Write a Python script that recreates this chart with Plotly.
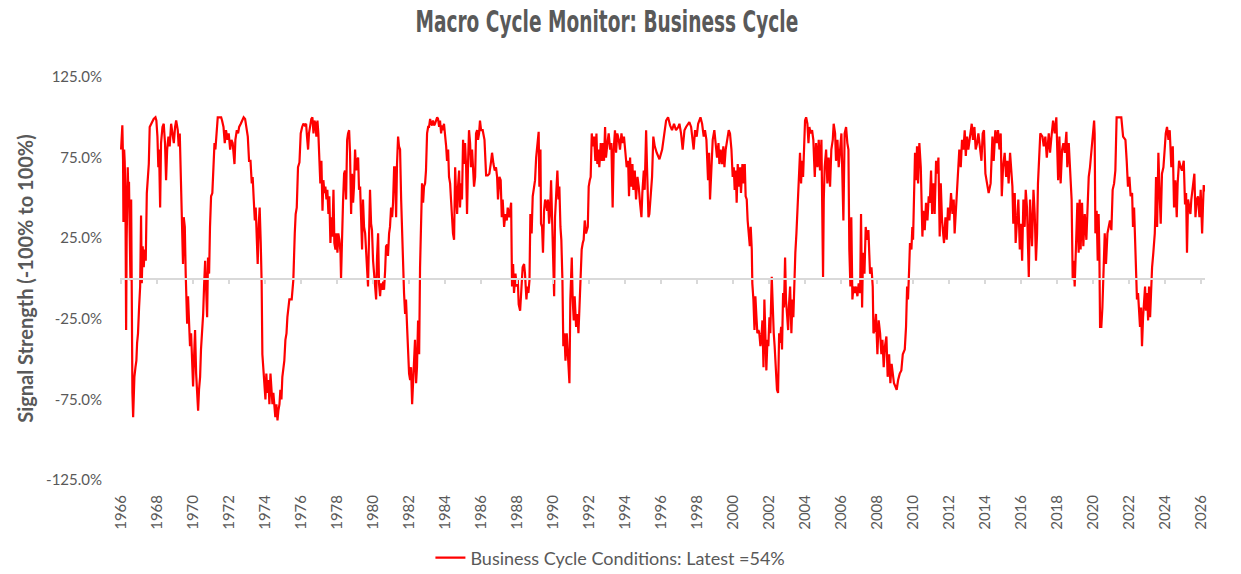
import plotly.graph_objects as go

# Business cycle signal (fractional years, % values)
years_66_75 = [1966.00, 1966.04, 1966.07, 1966.11, 1966.13, 1966.17, 1966.20, 1966.24, 1966.28, 1966.31,
               1966.37, 1966.41, 1966.44, 1966.48, 1966.52, 1966.56, 1966.59, 1966.63, 1966.67, 1966.70,
               1966.74, 1966.80, 1966.85, 1966.89, 1966.94, 1967.00, 1967.06, 1967.11, 1967.15, 1967.20,
               1967.26, 1967.31, 1967.37, 1967.43, 1967.48, 1967.54, 1967.59, 1967.67, 1967.74, 1967.81,
               1967.91, 1967.96, 1968.02, 1968.07, 1968.11, 1968.17, 1968.22, 1968.30, 1968.37, 1968.44,
               1968.50, 1968.56, 1968.63, 1968.70, 1968.78, 1968.85, 1968.93, 1969.00, 1969.06, 1969.15,
               1969.20, 1969.26, 1969.31, 1969.37, 1969.41, 1969.44, 1969.48, 1969.54, 1969.59, 1969.63,
               1969.67, 1969.72, 1969.78, 1969.83, 1969.89, 1969.94, 1970.00, 1970.06, 1970.11, 1970.17,
               1970.22, 1970.28, 1970.33, 1970.39, 1970.44, 1970.50, 1970.56, 1970.61, 1970.67, 1970.72,
               1970.78, 1970.83, 1970.89, 1970.94, 1971.00, 1971.07, 1971.13, 1971.19, 1971.24, 1971.30,
               1971.37, 1971.46, 1971.56, 1971.61, 1971.69, 1971.76, 1971.83, 1971.91, 1971.98, 1972.06,
               1972.13, 1972.20, 1972.30, 1972.35, 1972.43, 1972.50, 1972.56, 1972.65, 1972.72, 1972.81,
               1972.89, 1972.96, 1973.04, 1973.11, 1973.19, 1973.26, 1973.31, 1973.37, 1973.43, 1973.48,
               1973.54, 1973.59, 1973.65, 1973.70, 1973.76, 1973.81, 1973.85, 1973.91, 1973.96, 1974.02,
               1974.07, 1974.13, 1974.19, 1974.24, 1974.30, 1974.35, 1974.41, 1974.46, 1974.52, 1974.57,
               1974.63, 1974.69, 1974.74, 1974.80, 1974.85, 1974.91, 1974.96, 1975.02, 1975.07, 1975.13,
               1975.19, 1975.24, 1975.30, 1975.35]
signal_66_75 = [80, 90, 95, 73, 35, 80, 73, 53, -32, 24,
                69, 49, 60, 28, -1, 49, -34, -71, -86, -75,
                -61, -55, -51, -40, -34, -18, -5, 39, -3, 20,
                7, 18, 11, 53, 65, 71, 94, 96, 98, 99,
                100, 98, 88, 69, 80, 44, 84, 94, 96, 84,
                61, 80, 88, 82, 96, 90, 84, 94, 98, 92,
                82, 90, 69, 42, 24, 9, 38, 32, 3, -13,
                -28, -11, -24, -42, -34, -51, -67, -47, -32, -59,
                -75, -82, -69, -61, -44, -34, -22, -5, 11, -5,
                -24, 13, 3, 32, 51, 53, 69, 84, 80, 92,
                100, 100, 100, 98, 94, 84, 92, 86, 90, 80,
                86, 84, 71, 86, 92, 90, 94, 96, 98, 100,
                99, 94, 88, 73, 73, 59, 63, 49, 36, 44,
                26, 9, 34, 44, 22, -3, -47, -55, -67, -75,
                -59, -71, -63, -78, -59, -71, -78, -71, -82, -86,
                -78, -88, -82, -78, -69, -75, -61, -55, -51, -38,
                -34, -24, -18, -13]

years_75_86 = [1975.48, 1975.57, 1975.65, 1975.70, 1975.76, 1975.83, 1975.91, 1975.98, 1976.06, 1976.13,
               1976.20, 1976.28, 1976.33, 1976.39, 1976.44, 1976.52, 1976.57, 1976.63, 1976.69, 1976.74,
               1976.80, 1976.85, 1976.91, 1976.96, 1977.02, 1977.07, 1977.13, 1977.19, 1977.24, 1977.30,
               1977.35, 1977.41, 1977.46, 1977.52, 1977.57, 1977.63, 1977.69, 1977.74, 1977.80, 1977.85,
               1977.91, 1977.96, 1978.02, 1978.07, 1978.13, 1978.19, 1978.22, 1978.28, 1978.33, 1978.39,
               1978.44, 1978.50, 1978.56, 1978.61, 1978.67, 1978.72, 1978.78, 1978.83, 1978.89, 1978.94,
               1979.00, 1979.06, 1979.11, 1979.17, 1979.22, 1979.28, 1979.33, 1979.39, 1979.44, 1979.50,
               1979.56, 1979.61, 1979.67, 1979.72, 1979.78, 1979.83, 1979.89, 1979.94, 1980.00, 1980.06,
               1980.11, 1980.17, 1980.22, 1980.28, 1980.33, 1980.39, 1980.44, 1980.50, 1980.56, 1980.61,
               1980.67, 1980.72, 1980.78, 1980.83, 1980.89, 1980.94, 1981.00, 1981.06, 1981.11, 1981.17,
               1981.22, 1981.28, 1981.33, 1981.39, 1981.44, 1981.50, 1981.56, 1981.61, 1981.67, 1981.72,
               1981.78, 1981.83, 1981.89, 1981.94, 1982.00, 1982.06, 1982.11, 1982.17, 1982.22, 1982.28,
               1982.33, 1982.39, 1982.44, 1982.50, 1982.56, 1982.61, 1982.67, 1982.72, 1982.78, 1982.83,
               1982.89, 1982.94, 1983.00, 1983.06, 1983.11, 1983.17, 1983.22, 1983.28, 1983.33, 1983.39,
               1983.44, 1983.50, 1983.56, 1983.61, 1983.67, 1983.72, 1983.78, 1983.83, 1983.89, 1983.94,
               1984.00, 1984.06, 1984.11, 1984.17, 1984.22, 1984.28, 1984.33, 1984.39, 1984.44, 1984.50,
               1984.56, 1984.61, 1984.67, 1984.72, 1984.78, 1984.83, 1984.89, 1984.94, 1985.00, 1985.06,
               1985.11, 1985.17, 1985.22, 1985.28, 1985.33, 1985.39, 1985.44, 1985.50, 1985.56, 1985.61,
               1985.67, 1985.72, 1985.78, 1985.83, 1985.89, 1985.94, 1986.00]
signal_75_86 = [-13, -1, 28, 40, 44, 69, 72, 90, 94, 96,
                95, 96, 88, 80, 90, 96, 99, 100, 90, 98,
                96, 88, 98, 90, 73, 59, 73, 42, 61, 53,
                57, 49, 55, 40, 51, 22, 38, 26, 55, 22,
                18, 28, 16, 28, 24, 16, 0, 32, 47, 65,
                67, 49, 86, 90, 92, 78, 40, 65, 47, 57,
                80, 67, 73, 75, 55, 57, 38, 18, 49, 32,
                28, 18, 7, -5, 28, 55, 34, 30, 11, 3,
                -9, -13, 13, 28, -3, -11, -3, -7, -2, -7,
                5, 20, 21, 14, 28, 32, 44, 38, 47, 69,
                69, 38, 71, 88, 82, 80, 49, 26, 7, -9,
                -22, -13, -30, -42, -59, -63, -55, -78, -67, -55,
                -38, -65, -55, -26, -47, 7, 44, 59, 47, 57,
                59, 67, 90, 94, 94, 99, 96, 95, 98, 95,
                96, 98, 100, 99, 94, 98, 90, 95, 92, 96,
                90, 82, 73, 80, 63, 59, 49, 36, 28, 24,
                69, 53, 40, 57, 67, 44, 59, 49, 86, 71,
                84, 69, 40, 73, 92, 84, 69, 80, 65, 57,
                63, 90, 92, 86, 90, 98, 92]

years_86_96 = [1986.09, 1986.19, 1986.28, 1986.37, 1986.46, 1986.56, 1986.61, 1986.69, 1986.76, 1986.83,
               1986.89, 1986.94, 1987.02, 1987.09, 1987.15, 1987.20, 1987.28, 1987.35, 1987.43, 1987.48,
               1987.57, 1987.67, 1987.72, 1987.78, 1987.83, 1987.91, 1987.98, 1988.04, 1988.09, 1988.17,
               1988.24, 1988.31, 1988.39, 1988.44, 1988.52, 1988.57, 1988.63, 1988.69, 1988.74, 1988.81,
               1988.87, 1988.94, 1989.00, 1989.06, 1989.13, 1989.20, 1989.24, 1989.30, 1989.33, 1989.39,
               1989.44, 1989.50, 1989.56, 1989.61, 1989.67, 1989.72, 1989.78, 1989.83, 1989.89, 1989.94,
               1990.00, 1990.06, 1990.11, 1990.17, 1990.24, 1990.30, 1990.35, 1990.41, 1990.46, 1990.52,
               1990.57, 1990.63, 1990.69, 1990.76, 1990.83, 1990.91, 1990.96, 1991.04, 1991.09, 1991.15,
               1991.20, 1991.28, 1991.35, 1991.41, 1991.46, 1991.54, 1991.59, 1991.65, 1991.70, 1991.76,
               1991.83, 1991.93, 1991.98, 1992.04, 1992.09, 1992.15, 1992.20, 1992.28, 1992.35, 1992.41,
               1992.46, 1992.52, 1992.57, 1992.65, 1992.72, 1992.78, 1992.83, 1992.89, 1992.94, 1993.02,
               1993.09, 1993.17, 1993.24, 1993.31, 1993.37, 1993.44, 1993.50, 1993.57, 1993.65, 1993.72,
               1993.80, 1993.87, 1993.94, 1994.02, 1994.09, 1994.17, 1994.22, 1994.28, 1994.33, 1994.41,
               1994.46, 1994.54, 1994.61, 1994.69, 1994.76, 1994.83, 1994.91, 1994.96, 1995.04, 1995.09,
               1995.17, 1995.22, 1995.30, 1995.35, 1995.43, 1995.50, 1995.57, 1995.65, 1995.76, 1995.91,
               1996.06, 1996.15, 1996.28, 1996.39, 1996.50, 1996.61, 1996.72, 1996.83, 1996.96]
signal_86_96 = [92, 86, 64, 64, 65, 73, 78, 71, 67, 69,
                63, 49, 63, 61, 38, 49, 32, 40, 36, 44,
                38, 47, -5, 9, -9, 3, -5, -1, -16, -20,
                -7, 7, 9, 3, -13, -5, -9, -1, 40, 28,
                51, 57, 61, 75, 86, 91, 57, 80, 34, 32,
                16, 42, 49, 47, 42, 49, 34, 40, 61, 38,
                3, -11, 38, 49, 67, 49, 57, 32, 24, -1,
                -42, -34, -51, -34, -53, -65, -13, 13, -13, -26,
                -11, -30, -22, -34, -20, -1, 18, 22, 24, 36,
                28, 32, 57, 61, 63, 90, 82, 88, 73, 90,
                71, 80, 69, 84, 73, 84, 73, 94, 75, 84,
                90, 80, 84, 44, 80, 92, 78, 90, 86, 80,
                90, 84, 88, 78, 69, 73, 51, 75, 57, 71,
                55, 67, 49, 63, 57, 47, 38, 53, 67, 55,
                92, 69, 38, 40, 51, 63, 88, 82, 78, 74,
                80, 88, 98, 100, 95, 92, 96, 92, 94]

years_97_07 = [1997.02, 1997.11, 1997.20, 1997.30, 1997.39, 1997.48, 1997.57, 1997.67, 1997.81, 1997.89,
               1997.98, 1998.06, 1998.19, 1998.28, 1998.37, 1998.44, 1998.52, 1998.61, 1998.67, 1998.72,
               1998.80, 1998.87, 1998.96, 1999.04, 1999.11, 1999.19, 1999.24, 1999.31, 1999.39, 1999.46,
               1999.52, 1999.59, 1999.69, 1999.76, 1999.83, 1999.91, 1999.98, 2000.04, 2000.09, 2000.15,
               2000.20, 2000.26, 2000.31, 2000.39, 2000.44, 2000.52, 2000.57, 2000.65, 2000.70, 2000.76,
               2000.81, 2000.87, 2000.93, 2000.98, 2001.04, 2001.07, 2001.13, 2001.19, 2001.24, 2001.30,
               2001.35, 2001.41, 2001.46, 2001.52, 2001.57, 2001.63, 2001.69, 2001.74, 2001.80, 2001.85,
               2001.91, 2001.96, 2002.02, 2002.07, 2002.15, 2002.20, 2002.26, 2002.31, 2002.37, 2002.44,
               2002.50, 2002.56, 2002.61, 2002.67, 2002.72, 2002.78, 2002.83, 2002.89, 2002.94, 2003.00,
               2003.06, 2003.11, 2003.17, 2003.24, 2003.30, 2003.35, 2003.41, 2003.46, 2003.52, 2003.57,
               2003.61, 2003.67, 2003.72, 2003.78, 2003.83, 2003.89, 2003.94, 2004.00, 2004.06, 2004.13,
               2004.19, 2004.24, 2004.31, 2004.39, 2004.46, 2004.54, 2004.61, 2004.69, 2004.76, 2004.83,
               2004.91, 2005.00, 2005.04, 2005.09, 2005.17, 2005.24, 2005.31, 2005.39, 2005.46, 2005.54,
               2005.59, 2005.67, 2005.72, 2005.80, 2005.87, 2005.94, 2006.02, 2006.07, 2006.13, 2006.20,
               2006.28, 2006.35, 2006.41, 2006.46, 2006.52, 2006.57, 2006.63, 2006.69, 2006.76, 2006.83,
               2006.91, 2006.98, 2007.06, 2007.11, 2007.17, 2007.22, 2007.30, 2007.37, 2007.44, 2007.52]
signal_97_07 = [96, 90, 80, 92, 94, 96, 97, 94, 80, 92,
                88, 96, 100, 96, 88, 92, 86, 61, 78, 49,
                73, 86, 92, 84, 75, 84, 71, 80, 71, 82,
                69, 80, 88, 92, 90, 80, 63, 69, 55, 67,
                47, 71, 57, 69, 53, 71, 59, 71, 51, 49,
                36, 28, 20, 32, 18, -3, -13, -32, -11, -24,
                -34, -32, -34, -42, -38, -26, -55, -13, -51, -57,
                -38, -42, -24, -34, 1, -24, -34, -42, -59, -69,
                -71, -34, -40, -30, -44, -9, -18, 13, -13, -26,
                -32, -16, -5, -34, -13, -24, 1, 16, 28, 40,
                49, 57, 78, 59, 73, 63, 84, 98, 100, 96,
                84, 94, 90, 92, 86, 63, 84, 69, 86, 67,
                86, 1, 49, 69, 80, 59, 75, 57, 80, 86,
                96, 90, 73, 86, 69, 80, 90, 65, 36, 90,
                94, 84, 80, 18, -5, 38, -13, -5, -9, -5,
                -11, -3, -9, 40, -18, 16, 3, 32, 24, 30]

years_07_17 = [2007.56, 2007.61, 2007.69, 2007.76, 2007.80, 2007.87, 2007.94, 2008.02, 2008.09, 2008.17,
               2008.24, 2008.30, 2008.37, 2008.44, 2008.52, 2008.59, 2008.67, 2008.74, 2008.81, 2008.87,
               2008.94, 2009.02, 2009.09, 2009.17, 2009.26, 2009.35, 2009.43, 2009.54, 2009.61, 2009.67,
               2009.72, 2009.78, 2009.83, 2009.91, 2009.96, 2010.00, 2010.06, 2010.11, 2010.17, 2010.22,
               2010.28, 2010.35, 2010.43, 2010.52, 2010.57, 2010.65, 2010.72, 2010.80, 2010.87, 2010.93,
               2011.00, 2011.06, 2011.13, 2011.20, 2011.28, 2011.35, 2011.41, 2011.48, 2011.54, 2011.61,
               2011.72, 2011.80, 2011.87, 2011.94, 2012.02, 2012.11, 2012.19, 2012.26, 2012.31, 2012.39,
               2012.46, 2012.52, 2012.57, 2012.65, 2012.72, 2012.80, 2012.87, 2012.93, 2013.00, 2013.07,
               2013.15, 2013.26, 2013.33, 2013.41, 2013.48, 2013.56, 2013.63, 2013.70, 2013.80, 2013.87,
               2013.94, 2014.02, 2014.11, 2014.20, 2014.31, 2014.41, 2014.48, 2014.57, 2014.65, 2014.72,
               2014.80, 2014.87, 2014.93, 2015.00, 2015.09, 2015.17, 2015.24, 2015.31, 2015.39, 2015.46,
               2015.52, 2015.57, 2015.65, 2015.70, 2015.78, 2015.85, 2015.93, 2016.00, 2016.06, 2016.13,
               2016.20, 2016.26, 2016.33, 2016.43, 2016.50, 2016.56, 2016.61, 2016.69, 2016.76, 2016.83,
               2016.89, 2016.94, 2017.00, 2017.07, 2017.19, 2017.26, 2017.35, 2017.43, 2017.54, 2017.61,
               2017.69, 2017.78, 2017.87, 2017.96]
signal_07_17 = [11, 3, 7, -5, -34, -32, -22, -47, -26, -34,
                -47, -38, -55, -42, -36, -61, -47, -65, -53, -59,
                -65, -67, -69, -63, -59, -57, -47, -44, -30, -5,
                -13, 5, 22, 18, 32, 24, 55, 78, 61, 82,
                59, 84, 69, 26, 42, 30, 47, 36, 51, 47,
                67, 40, 59, 40, 73, 65, 75, 26, 59, 36,
                22, 38, 24, 44, 36, 53, 40, 49, 28, 44,
                53, 71, 80, 69, 86, 80, 92, 76, 88, 80,
                86, 96, 86, 94, 80, 84, 90, 82, 73, 90,
                92, 65, 59, 53, 59, 88, 73, 92, 84, 92,
                80, 90, 51, 69, 78, 63, 73, 59, 78, 69,
                57, 34, 53, 22, 36, 49, 18, 34, 11, 49,
                32, 55, 44, 1, 49, 36, 20, 55, 40, 11,
                28, 59, 80, 90, 88, 82, 88, 75, 90, 78,
                88, 98, 90, 100]

years_18_26 = [2018.06, 2018.13, 2018.20, 2018.28, 2018.35, 2018.43, 2018.52, 2018.57, 2018.65, 2018.74,
               2018.81, 2018.87, 2018.93, 2018.98, 2019.06, 2019.13, 2019.20, 2019.26, 2019.31, 2019.39,
               2019.46, 2019.54, 2019.63, 2019.70, 2019.76, 2019.83, 2019.91, 2019.98, 2020.06, 2020.09,
               2020.13, 2020.20, 2020.26, 2020.31, 2020.35, 2020.39, 2020.46, 2020.52, 2020.59, 2020.65,
               2020.72, 2020.80, 2020.87, 2020.94, 2021.02, 2021.09, 2021.17, 2021.24, 2021.31, 2021.43,
               2021.57, 2021.67, 2021.80, 2021.87, 2021.94, 2022.02, 2022.09, 2022.17, 2022.22, 2022.28,
               2022.33, 2022.39, 2022.44, 2022.50, 2022.56, 2022.61, 2022.67, 2022.72, 2022.78, 2022.83,
               2022.89, 2022.94, 2023.00, 2023.06, 2023.11, 2023.17, 2023.22, 2023.28, 2023.35, 2023.43,
               2023.46, 2023.50, 2023.56, 2023.63, 2023.69, 2023.76, 2023.83, 2023.91, 2023.98, 2024.04,
               2024.11, 2024.19, 2024.26, 2024.35, 2024.43, 2024.50, 2024.57, 2024.65, 2024.70, 2024.78,
               2024.87, 2024.94, 2025.04, 2025.11, 2025.17, 2025.22, 2025.28, 2025.33, 2025.41, 2025.46,
               2025.52, 2025.63, 2025.69, 2025.76, 2025.83, 2025.91, 2025.98, 2026.06, 2026.11, 2026.15,
               2026.19]
signal_18_26 = [61, 88, 59, 80, 84, 78, 91, 69, 84, 61,
                49, -1, 11, -5, 24, 47, 16, 49, 18, 47,
                20, 40, 24, 40, 63, 69, 80, 90, 98, 90,
                28, 42, 11, 40, 18, -30, -30, -18, 7, 28,
                9, 28, 32, 36, 30, 55, 59, 67, 100, 100,
                100, 88, 86, 73, 57, 63, 51, 53, 32, 44,
                22, 3, -13, -9, -22, -30, -18, -42, -24, -16,
                -5, -20, -9, -26, -5, -24, -9, 7, 16, 28,
                40, 63, 32, 78, 55, 34, 65, 69, 80, 90,
                94, 86, 92, 69, 82, 44, 61, 38, 59, 73,
                69, 67, 73, 46, 53, 16, 49, 46, 40, 49,
                55, 65, 38, 49, 51, 38, 55, 28, 46, 58,
                54]

y_tickvals = [-125, -75, -25, 25, 75, 125]
y_ticktext = ["-125.0%", "-75.0%", "-25.0%", "25.0%", "75.0%", "125.0%"]

years = (years_66_75 + years_75_86 + years_86_96 + years_97_07 + years_07_17 + years_18_26)
signal = (signal_66_75 + signal_75_86 + signal_86_96 + signal_97_07 + signal_07_17 + signal_18_26)
assert len(years) == len(signal), (len(years), len(signal))

GREY = "#595959"
x_range = [1965.94, 2026.22]

fig = go.Figure()

fig.add_trace(go.Scatter(
    x=years, y=signal, mode="lines",
    name="Business Cycle Conditions: Latest =54%",
    line=dict(color="#FF0000", width=2.2),
    hovertemplate="%{x:.2f}: %{y:.0f}%<extra></extra>"
))

# empty trace so the zero-line axis (with its ticks) gets drawn
fig.add_trace(go.Scatter(x=[], y=[], xaxis="x2", showlegend=False, hoverinfo="skip"))

fig.update_layout(
    width=1241, height=574,
    paper_bgcolor="white", plot_bgcolor="white",
    margin=dict(l=120, r=36, t=77, b=94, autoexpand=False),
    title=dict(
        text="<b>Macro Cycle Monitor: Business Cycle</b>",
        x=0.489, xanchor="center", xref="container",
        y=0.962, yanchor="middle", yref="container",
        font=dict(family="DejaVu Sans, sans-serif", size=30, color=GREY)
    ),
    showlegend=True,
    legend=dict(
        orientation="h", x=0.452, xanchor="center",
        y=0.028, yanchor="middle", yref="container",
        font=dict(family="Lato, sans-serif", size=18, color=GREY)
    ),
    xaxis=dict(
        range=x_range, tickmode="linear", tick0=1966, dtick=2, automargin=False,
        tickangle=-90, showgrid=False, zeroline=False, showline=False,
        ticks="outside", ticklen=8, tickcolor="rgba(0,0,0,0)",
        tickfont=dict(family="Lato, sans-serif", size=15, color=GREY)
    ),
    xaxis2=dict(
        range=x_range, overlaying="x", anchor="free", position=0.5, side="bottom",
        tickmode="linear", tick0=1966, dtick=2,
        showline=True, linecolor="#D9D9D9", linewidth=1.5,
        ticks="outside", ticklen=5, tickwidth=1.5, tickcolor="#D9D9D9",
        showticklabels=False, showgrid=False, zeroline=False
    ),
    yaxis=dict(
        range=[-125, 125], tickvals=y_tickvals, ticktext=y_ticktext, automargin=False,
        showgrid=False, zeroline=False, showline=False,
        ticks="outside", ticklen=14, tickcolor="rgba(0,0,0,0)",
        tickfont=dict(family="Lato, sans-serif", size=15, color=GREY),
        title=dict(text="<b>Signal Strength (-100% to 100%)</b>", standoff=7,
                   font=dict(family="Lato, sans-serif", size=20, color=GREY))
    ),
)

# the reference title uses a condensed face; squeeze the rendered title to its width
post_js = """
document.body.style.margin = '0';
var gd = document.getElementById('{plot_id}');
var t = gd.querySelector('.gtitle');
if (t) {
  var bb = t.getBBox();
  var cx = bb.x + bb.width / 2;
  var s = 383 / bb.width;
  t.setAttribute('transform', 'translate(' + cx + ',0) scale(' + s + ',1) translate(' + (-cx) + ',0)');
}
"""

fig.write_html("out.html", config={"displayModeBar": False}, post_script=post_js)
